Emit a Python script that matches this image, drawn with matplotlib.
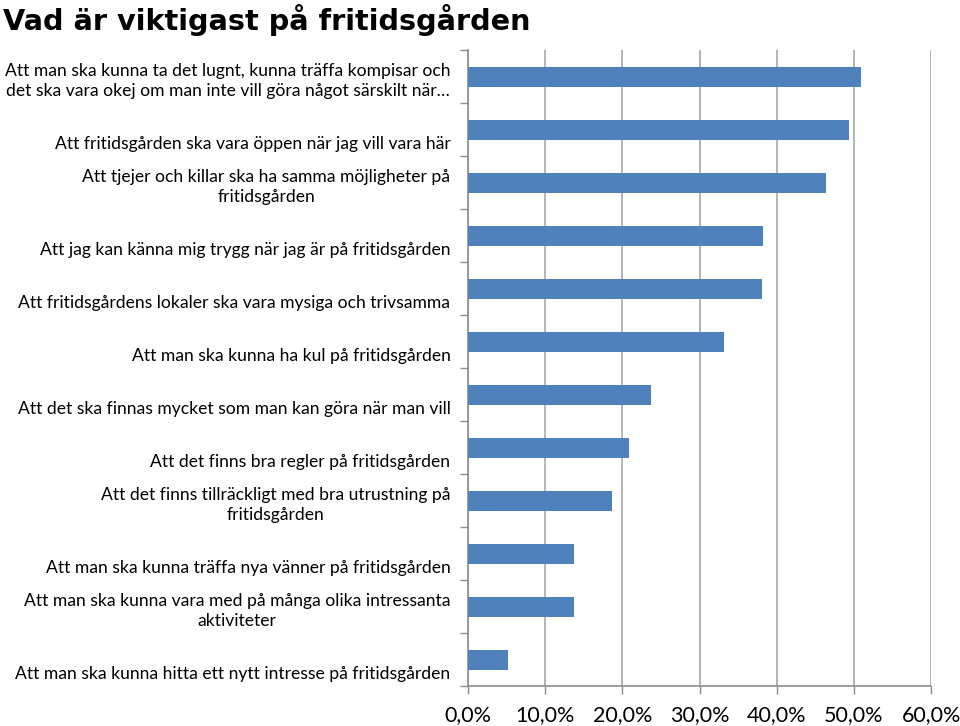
import matplotlib.pyplot as plt
from matplotlib.ticker import FuncFormatter, MultipleLocator
import matplotlib.transforms as mtransforms

# answers, top to bottom
labels = [
    "Att man ska kunna ta det lugnt, kunna träffa kompisar och\ndet ska vara okej om man inte vill göra något särskilt när…",
    "Att fritidsgården ska vara öppen när jag vill vara här",
    "Att tjejer och killar ska ha samma möjligheter på\nfritidsgården",
    "Att jag kan känna mig trygg när jag är på fritidsgården",
    "Att fritidsgårdens lokaler ska vara mysiga och trivsamma",
    "Att man ska kunna ha kul på fritidsgården",
    "Att det ska finnas mycket som man kan göra när man vill",
    "Att det finns bra regler på fritidsgården",
    "Att det finns tillräckligt med bra utrustning på\nfritidsgården",
    "Att man ska kunna träffa nya vänner på fritidsgården",
    "Att man ska kunna vara med på många olika intressanta\naktiviteter",
    "Att man ska kunna hitta ett nytt intresse på fritidsgården",
]
values = [50.9, 49.3, 46.4, 38.2, 38.1, 33.1, 23.7, 20.8, 18.7, 13.7, 13.7, 5.2]

grey = '#8c8c8c'

fig = plt.figure(figsize=(9.6, 7.26), dpi=100)
ax = fig.add_axes([0.4875, 0.055, 0.4825, 0.876])

pos = list(range(len(values)))
ax.barh(pos, values, height=0.38, color='#4f81bd', zorder=3)

ax.set_xlim(0, 60)
ax.set_ylim(len(values) - 0.5, -0.5)
ax.xaxis.set_major_locator(MultipleLocator(10))
ax.xaxis.set_major_formatter(FuncFormatter(lambda v, p: f"{v:.1f}%".replace('.', ',')))
ax.grid(axis='x', color='#a0a0a0', linewidth=1.1, zorder=0)

# category boundary ticks, no labels on the axis itself
ax.set_yticks([p - 0.5 for p in pos] + [len(values) - 0.5])
ax.set_yticklabels([])
ax.tick_params(axis='y', length=6, color=grey, width=1)
ax.tick_params(axis='x', length=6, color=grey, width=1, labelsize=15.5, pad=8)
for lbl in ax.get_xticklabels():
    lbl.set_fontfamily('Lato')

for s in ['top', 'right']:
    ax.spines[s].set_visible(False)
for s in ['left', 'bottom']:
    ax.spines[s].set_color(grey)
    ax.spines[s].set_linewidth(1.2)

# labels sit just above the lower boundary of each category
trans = mtransforms.blended_transform_factory(ax.transAxes, ax.transData)
offset = mtransforms.ScaledTranslation(0, 3 / 72, fig.dpi_scale_trans)
for p, lab in zip(pos, labels):
    ax.text(-0.038, p + 0.5, lab, transform=trans + offset, ha='right', va='bottom',
            multialignment='center', fontsize=12.65, family='Lato', linespacing=1.3)

fig.text(0.003, 0.995, "Vad är viktigast på fritidsgården", ha='left', va='top',
         fontsize=20.7, fontweight='bold', family='DejaVu Sans')

fig.savefig('out.png', dpi=100)
